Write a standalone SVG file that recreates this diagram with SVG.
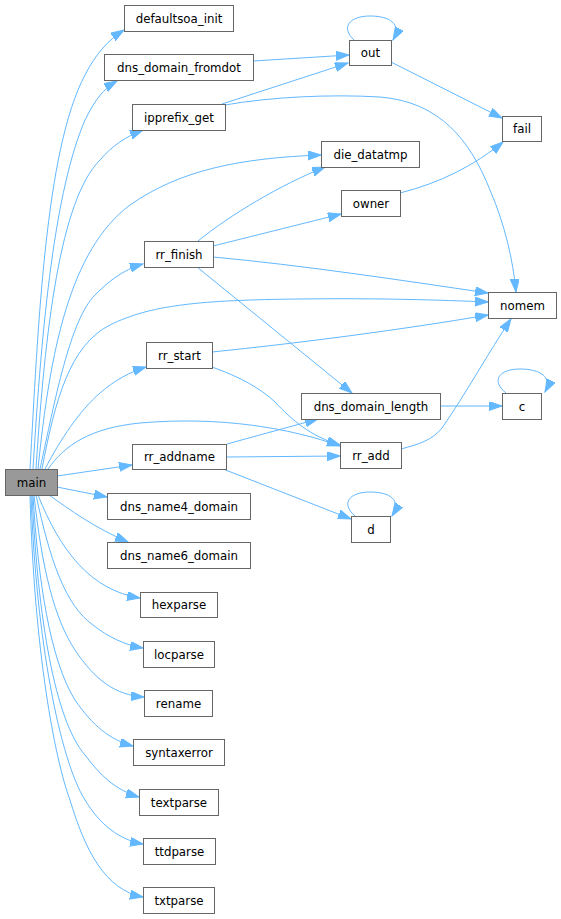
<svg xmlns="http://www.w3.org/2000/svg" width="561" height="919" viewBox="0 0 561 919">
<style>
.n rect{fill:#ffffff;stroke:#666666;stroke-width:1}
.n.m rect{fill:#999999}
.n text{font-family:"DejaVu Sans",sans-serif;font-size:11.8px;fill:#000000;text-anchor:middle}
.e path{fill:none;stroke:#63b8ff;stroke-width:1;marker-end:url(#ah)}
</style>
<defs>
<marker id="ah" markerUnits="userSpaceOnUse" markerWidth="14" markerHeight="10" refX="13" refY="4.5" orient="auto">
<path d="M0,0 L13,4.5 L0,9 z" fill="#63b8ff" stroke="#63b8ff" stroke-width="1"/>
</marker>
</defs>
<rect width="561" height="919" fill="#ffffff"/>
<g id="edges" class="e">
<path d="M30,469 C38,330 45,150 85,75 C95,55 108,40 124,30"/>
<path d="M33,469 C42,320 55,190 85,120 C95,100 103,89 117,81"/>
<path d="M36,469 C45,330 60,200 100,160 C112,146 125,137 143,130"/>
<path d="M38,469 C50,350 70,250 130,205 C180,170 240,158 321,155"/>
<path d="M40,469 C55,400 70,320 95,295 C108,282 122,270 143,264"/>
<path d="M42,469 C55,400 70,345 110,325 C150,305 200,300 300,299 C380,298 440,300 488,302"/>
<path d="M45,469 C60,440 80,410 100,393 C115,380 130,372 146,367"/>
<path d="M48,469 C65,445 90,428 140,423 C220,416 290,428 340,446"/>
<path d="M57,476 L132,465"/>
<path d="M57,487 L107,497"/>
<path d="M49,495 C70,510 95,528 128,542"/>
<path d="M38,495 C60,550 90,590 140,598"/>
<path d="M36,495 C50,560 65,605 93,625 C108,637 125,645 143,648"/>
<path d="M34,495 C42,570 55,620 75,650 C95,680 115,695 144,697"/>
<path d="M33,495 C38,580 50,660 75,700 C92,725 110,740 133,746"/>
<path d="M32,495 C38,620 55,720 85,755 C100,775 115,790 139,797"/>
<path d="M31,495 C36,640 60,760 85,800 C100,825 120,840 143,844"/>
<path d="M30,495 C34,650 55,760 70,800 C85,850 105,890 143,897"/>
<path d="M253,61 L349,55"/>
<path d="M222,104 L348,63"/>
<path d="M354,40 C340,27 350,16 370,16 C390,16 402,24 393,40"/>
<path d="M391,62 L502,118"/>
<path d="M225,105 C270,97 330,94 380,97 C440,102 470,140 490,190 C505,225 513,260 516,292"/>
<path d="M400,193 C440,183 475,165 503,142"/>
<path d="M198,241 C230,215 280,185 325,167"/>
<path d="M213,246 L341,214"/>
<path d="M213,257 C300,265 400,280 488,293"/>
<path d="M197,267 L352,393"/>
<path d="M212,352 C300,343 400,330 488,315"/>
<path d="M212,367 C240,377 260,388 275,402 C292,420 310,436 340,445"/>
<path d="M227,444 L318,419"/>
<path d="M227,457 L340,456"/>
<path d="M223,469 L351,519"/>
<path d="M440,406 L502,406"/>
<path d="M506,393 C490,380 500,369 520,369 C540,369 553,377 545,392"/>
<path d="M355,516 C340,503 350,492 370,492 C390,492 402,500 392,516"/>
<path d="M401,449 C420,444 432,440 442,428 C465,395 490,350 511,319"/>
</g>
<g id="main" class="n m"><rect x="5.5" y="469.5" width="52" height="26"/><text x="31.5" y="486.5">main</text></g>
<g id="defaultsoa_init" class="n"><rect x="124.5" y="5.5" width="109" height="26"/><text x="179" y="22.5">defaultsoa_init</text></g>
<g id="dns_domain_fromdot" class="n"><rect x="104.5" y="54.5" width="149" height="26"/><text x="179" y="71.5">dns_domain_fromdot</text></g>
<g id="ipprefix_get" class="n"><rect x="132.5" y="104.5" width="93" height="26"/><text x="179" y="121.5">ipprefix_get</text></g>
<g id="out" class="n"><rect x="349.5" y="40.5" width="42" height="25"/><text x="370.5" y="57">out</text></g>
<g id="fail" class="n"><rect x="502.5" y="116.5" width="39" height="25"/><text x="522" y="133">fail</text></g>
<g id="die_datatmp" class="n"><rect x="321.5" y="141.5" width="98" height="26"/><text x="370.5" y="158.5">die_datatmp</text></g>
<g id="owner" class="n"><rect x="341.5" y="190.5" width="59" height="26"/><text x="371" y="207.5">owner</text></g>
<g id="rr_finish" class="n"><rect x="144.5" y="241.5" width="69" height="26"/><text x="179" y="258.5">rr_finish</text></g>
<g id="nomem" class="n"><rect x="488.5" y="292.5" width="68" height="26"/><text x="522.5" y="309.5">nomem</text></g>
<g id="rr_start" class="n"><rect x="146.5" y="342.5" width="66" height="26"/><text x="179.5" y="359.5">rr_start</text></g>
<g id="dns_domain_length" class="n"><rect x="301.5" y="393.5" width="139" height="26"/><text x="371" y="410.5">dns_domain_length</text></g>
<g id="c" class="n"><rect x="502.5" y="393.5" width="39" height="26"/><text x="522" y="410.5">c</text></g>
<g id="rr_addname" class="n"><rect x="132.5" y="444.5" width="94" height="25"/><text x="179.5" y="461">rr_addname</text></g>
<g id="rr_add" class="n"><rect x="340.5" y="442.5" width="61" height="26"/><text x="371" y="459.5">rr_add</text></g>
<g id="d" class="n"><rect x="351.5" y="516.5" width="39" height="26"/><text x="371" y="533.5">d</text></g>
<g id="dns_name4_domain" class="n"><rect x="107.5" y="493.5" width="143" height="26"/><text x="179" y="510.5">dns_name4_domain</text></g>
<g id="dns_name6_domain" class="n"><rect x="107.5" y="542.5" width="143" height="26"/><text x="179" y="559.5">dns_name6_domain</text></g>
<g id="hexparse" class="n"><rect x="140.5" y="592.5" width="77" height="25"/><text x="179" y="609">hexparse</text></g>
<g id="locparse" class="n"><rect x="143.5" y="641.5" width="71" height="26"/><text x="179" y="658.5">locparse</text></g>
<g id="rename" class="n"><rect x="144.5" y="690.5" width="68" height="26"/><text x="178.5" y="707.5">rename</text></g>
<g id="syntaxerror" class="n"><rect x="133.5" y="739.5" width="91" height="26"/><text x="179" y="756.5">syntaxerror</text></g>
<g id="textparse" class="n"><rect x="139.5" y="789.5" width="79" height="26"/><text x="179" y="806.5">textparse</text></g>
<g id="ttdparse" class="n"><rect x="143.5" y="838.5" width="72" height="26"/><text x="179.5" y="855.5">ttdparse</text></g>
<g id="txtparse" class="n"><rect x="143.5" y="887.5" width="71" height="26"/><text x="179" y="904.5">txtparse</text></g>
</svg>
